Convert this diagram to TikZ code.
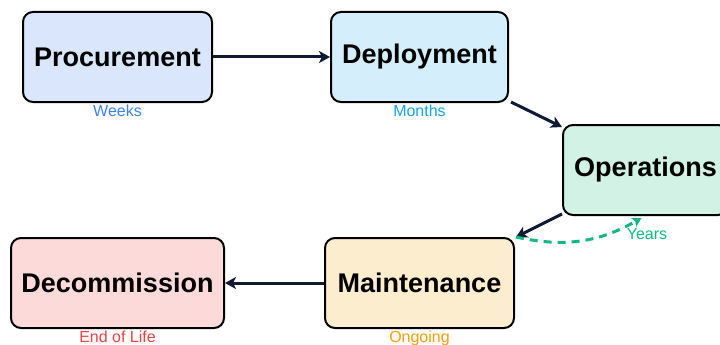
\documentclass[tikz,border=0pt]{standalone}
\usepackage{fontspec}
\setmainfont{Liberation Sans}
\usetikzlibrary{arrows.meta}

\definecolor{ink}{HTML}{0F1B33}
\definecolor{procfill}{HTML}{DAE6FB}
\definecolor{depfill}{HTML}{D4EEFB}
\definecolor{opsfill}{HTML}{D1F2E4}
\definecolor{mainfill}{HTML}{FDEDCF}
\definecolor{decfill}{HTML}{FCDADA}
\definecolor{weekc}{HTML}{3B82F6}
\definecolor{monthc}{HTML}{0EA5E9}
\definecolor{yearc}{HTML}{10B981}
\definecolor{ongoc}{HTML}{F59E0B}
\definecolor{endc}{HTML}{EF4444}

\tikzset{
  stage/.style={draw=black, line width=2pt, rounded corners=10pt,
    minimum height=90pt, inner sep=0pt,
    font=\bfseries\fontsize{27}{32}\selectfont},
  period/.style={anchor=north, inner sep=0pt, yshift=-2pt,
    font=\fontsize{16}{18}\selectfont},
  flow/.style={draw=ink, line width=3pt,
    -{Stealth[length=11pt,width=12pt,inset=3pt]}},
  loopback/.style={draw=yearc, line width=3pt, dash pattern=on 8pt off 6pt,
    -{Stealth[length=9pt,width=10pt,inset=2pt]}}
}

\begin{document}
\begin{tikzpicture}[x=1pt,y=-1pt]
  \useasboundingbox (0,0) rectangle (720,345);

  % lifecycle stages
  \node[stage, fill=procfill, minimum width=189pt] (proc) at (117.5,57) {Procurement};
  \node[stage, fill=depfill,  minimum width=177pt] (dep)  at (419.5,57) {Deployment};
  \node[stage, fill=opsfill,  minimum width=165pt] (ops)  at (645.5,170) {Operations};
  \node[stage, fill=mainfill, minimum width=189pt] (main) at (419.5,283) {Maintenance};
  \node[stage, fill=decfill,  minimum width=213pt] (dec)  at (117.5,283) {Decommission};

  % durations
  \node[period, text=weekc]  (lproc) at (proc.south) {Weeks};
  \node[period, text=monthc] (ldep)  at (dep.south)  {Months};
  \node[period, text=ongoc]  (lmain) at (main.south) {Ongoing};
  \node[period, text=endc]   (ldec)  at (dec.south)  {End of Life};

  % main flow
  \draw[flow] (proc.east) -- (dep.west);
  \draw[flow] ([xshift=2pt,yshift=1pt]dep.south east) -- ([yshift=-3pt]ops.north west);
  \draw[flow] ([yshift=2pt]ops.south west) -- ([xshift=1pt]main.north east);
  \draw[flow] (main.west) -- (dec.east);

  % maintenance feeds back into operations
  \draw[loopback] ([xshift=1pt]main.north east) to[bend right=21] ([xshift=-4pt,yshift=-2pt]ops.south);
  \node[period, text=yearc, anchor=center, yshift=0pt] (lops) at ([xshift=1.5pt,yshift=-16pt]ops.south) {Years};
\end{tikzpicture}
\end{document}
